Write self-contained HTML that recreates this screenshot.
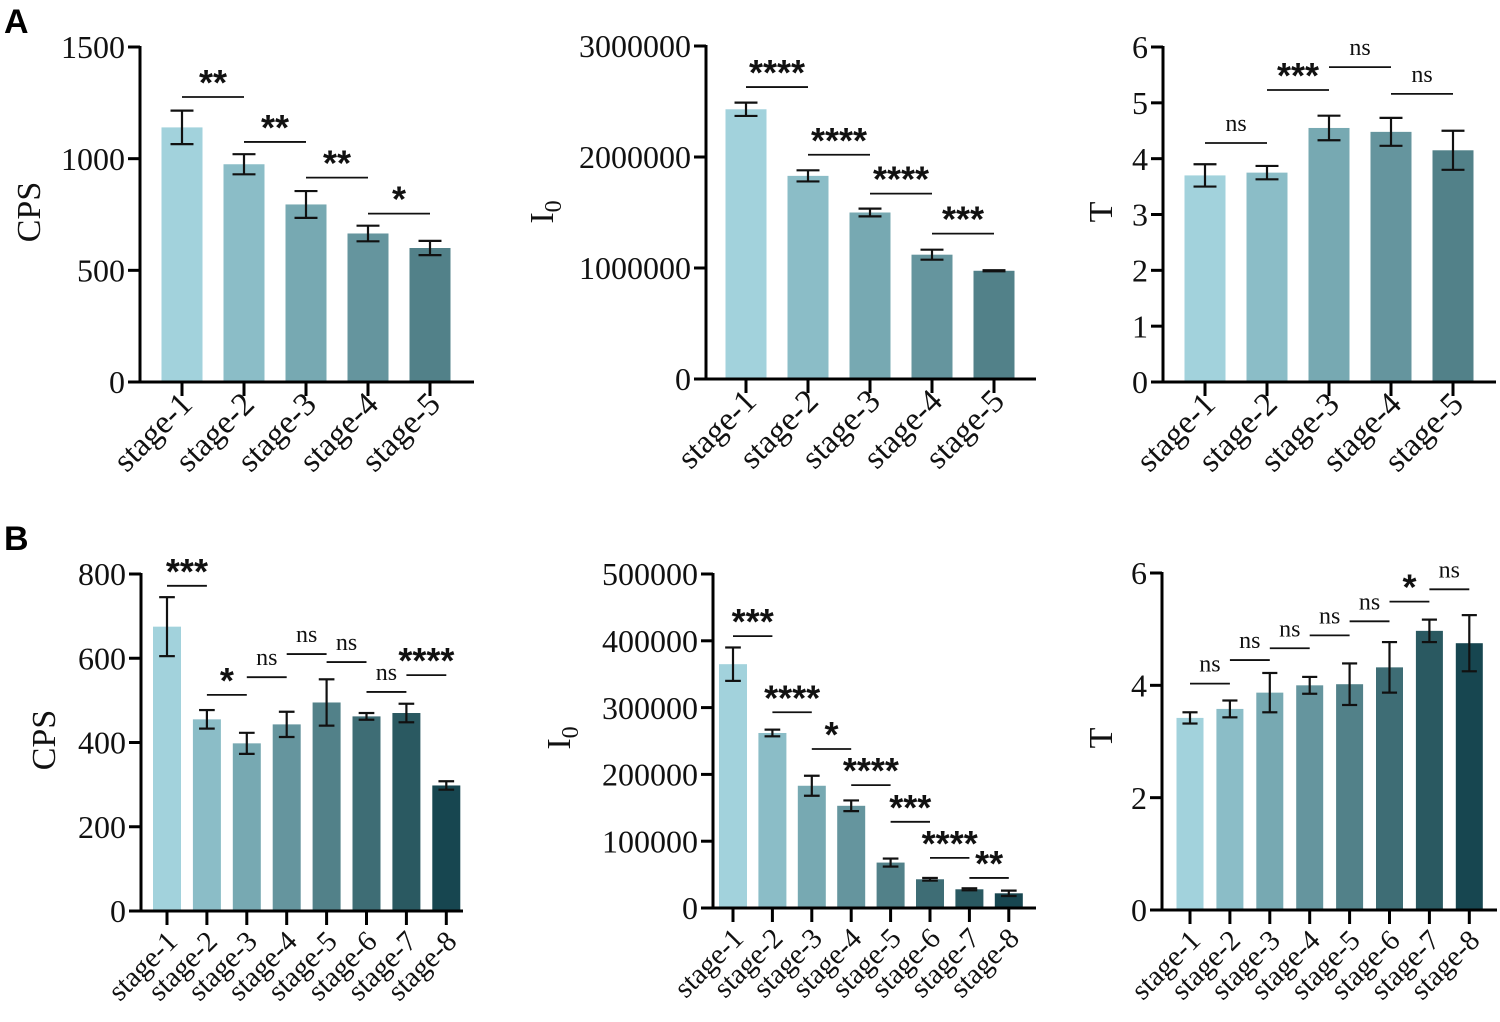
<!DOCTYPE html>
<html><head><meta charset="utf-8"><style>
html,body{margin:0;padding:0;background:#fff}
svg{display:block}
</style></head><body>
<svg id="fig" width="1500" height="1022" viewBox="0 0 1500 1022" xmlns="http://www.w3.org/2000/svg">
<text x="4" y="33" font-family="Liberation Sans, sans-serif" font-weight="bold" font-size="34">A</text>
<text x="4" y="550" font-family="Liberation Sans, sans-serif" font-weight="bold" font-size="34">B</text>
</svg>
<script>
const catsA = ["stage-1","stage-2","stage-3","stage-4","stage-5"];
const catsB = ["stage-1","stage-2","stage-3","stage-4","stage-5","stage-6","stage-7","stage-8"];
const colorsA = ["#a2d2dc","#8bbdc7","#77a9b2","#65959e","#528189"];
const colorsB = ["#a2d2dc","#8bbdc7","#77a9b2","#65959e","#528189","#3e6d75","#2a5961","#174650"];

const a1Vals = [1140, 975, 795, 665, 600];
const a1Errs = [75, 45, 60, 35, 32];
const a1Ticks = [0, 500, 1000, 1500];
const a1Sig = ["**","**","**","*"];
const a1SigY = [1276, 1075, 915, 754];

const a2Vals = [2430000, 1830000, 1500000, 1120000, 975000];
const a2Errs = [60000, 50000, 35000, 45000, 5000];
const a2Ticks = [0, 1000000, 2000000, 3000000];
const a2SigY = [2630000, 2020000, 1670000, 1310000];
const a2SigLbl = ["****","****","****","***"];

const a3Vals = [3.7, 3.75, 4.55, 4.48, 4.15];
const a3Errs = [0.2, 0.12, 0.22, 0.25, 0.35];
const a3Ticks = [0, 1, 2, 3, 4, 5, 6];
const a3Sig = ["ns","***","ns","ns"];
const a3SigY = [4.28, 5.23, 5.64, 5.16];

const b1Vals = [675, 455, 398, 443, 495, 462, 470, 298];
const b1Errs = [70, 22, 25, 30, 55, 8, 22, 10];
const b1Ticks = [0, 200, 400, 600, 800];
const b1Sig = ["***","*","ns","ns","ns","ns","****"];
const b1SigY = [772, 513, 555, 610, 591, 520, 560];

const b2Vals = [365000, 262000, 183000, 153000, 68000, 43000, 28000, 22000];
const b2Errs = [25000, 5000, 15000, 8000, 6000, 2000, 1500, 4000];
const b2Ticks = [0, 100000, 200000, 300000, 400000, 500000];
const b2Sig = ["***","****","*","****","***","****","**"];
const b2SigY = [407000, 293000, 238000, 184000, 129000, 75000, 45000];

const b3Vals = [3.42, 3.58, 3.87, 4.0, 4.02, 4.32, 4.97, 4.75];
const b3Errs = [0.1, 0.15, 0.35, 0.15, 0.37, 0.45, 0.2, 0.5];
const b3Ticks = [0, 2, 4, 6];
const b3Sig = ["ns","ns","ns","ns","ns","*","ns"];
const b3SigY = [4.03, 4.45, 4.66, 4.89, 5.14, 5.49, 5.71];

const NS = "http://www.w3.org/2000/svg";
const svg = document.getElementById('fig');
function mk(tag, attrs, parent){
  const e = document.createElementNS(NS, tag);
  for (const k in attrs) e.setAttribute(k, attrs[k]);
  (parent||svg).appendChild(e);
  return e;
}

function panel(p){
  const g = mk('g', {});
  
  
  const ymax = p.ticks[p.ticks.length-1];
  const yS = v => p.zero - (v / ymax) * (p.zero - p.top);
  const xS = i => p.firstX + i * p.step;
  p.vals.forEach((v,i)=>{
    const r = mk('rect', {x: xS(i)-p.bw/2, y: yS(v), width: p.bw, height: p.zero - yS(v), fill: p.colors[i]}, g);
    
    
  });
  p.vals.forEach((v,i)=>{
    const e = p.errs[i], cx = xS(i), cw = p.bw*0.28;
    const eg = mk('g', {stroke:'#111', 'stroke-width':2.2, fill:'none'}, g);
    
    
    mk('line', {x1:cx, x2:cx, y1:yS(v+e), y2:yS(v-e)}, eg);
    mk('line', {x1:cx-cw, x2:cx+cw, y1:yS(v+e), y2:yS(v+e)}, eg);
    mk('line', {x1:cx-cw, x2:cx+cw, y1:yS(v-e), y2:yS(v-e)}, eg);
  });
  const ax = mk('g', {stroke:'#000', 'stroke-width':3, fill:'none'}, g);
  
  
  mk('line', {x1:p.ax, x2:p.ax, y1:p.top-1, y2:p.zero+1.5}, ax);
  mk('line', {x1:p.ax-12, x2:p.xend, y1:p.zero, y2:p.zero}, ax);
  p.ticks.forEach(t=>{
    mk('line', {x1:p.ax-12, x2:p.ax, y1:yS(t), y2:yS(t)}, ax);
    const tl = mk('text', {x:p.ax-15, y:yS(t)+p.tfs*0.35, 'text-anchor':'end', 'font-family':'Liberation Serif, serif', 'font-size':p.tfs, fill:'#111', stroke:'none'}, g);
    tl.textContent = String(t);
    
    
  });
  p.cats.forEach((c,i)=>{
    mk('line', {x1:xS(i), x2:xS(i), y1:p.zero, y2:p.zero+14}, ax);
    const cx = xS(i) + p.lxo, cy = p.zero + p.lyo;
    const tl = mk('text', {x:cx, y:cy, 'text-anchor':'end', transform:`rotate(-45 ${cx} ${cy})`, 'font-family':'Liberation Serif, serif', 'font-size':p.xfs, fill:'#111'}, g);
    tl.textContent = c;
    
    
  });
  const yt = mk('text', {x:p.ylx, y:p.yly, 'text-anchor':'middle', transform:`rotate(-90 ${p.ylx} ${p.yly})`, 'font-family':'Liberation Serif, serif', 'font-size':34, fill:'#111'}, g);
  yt.textContent = p.ylabel;
  if (p.sub){ const s = mk('tspan', {'font-size':24, dy:8}, yt); s.textContent = p.sub; }
  
  
  p.sig.forEach((s,i)=>{
    const y = yS(p.sigY[i]);
    const sg = mk('g', {}, g);
    
    
    mk('line', {x1:xS(i), x2:xS(i+1), y1:y, y2:y, stroke:'#111', 'stroke-width':1.8}, sg);
    const isNs = s === 'ns';
    const t = mk('text', {x:(xS(i)+xS(i+1))/2, y: isNs ? y-12 : y-2, 'text-anchor':'middle',
      'font-family': isNs ? 'Liberation Serif, serif' : 'Liberation Sans, sans-serif',
      'font-weight': isNs ? 'normal' : 'bold', 'font-size': isNs ? p.nsfs : p.sfs, fill:'#111'}, sg);
    t.textContent = s;
  });
}

panel({name:'panel-a-cps', cats:catsA, colors:colorsA, vals:a1Vals, errs:a1Errs, ticks:a1Ticks, sig:a1Sig, sigY:a1SigY,
  ax:140, top:47, zero:382, xend:474, firstX:182, step:62, bw:41, tfs:32, xfs:33, lxo:12, lyo:24, ylabel:'CPS', ylx:40, yly:212, sfs:36, nsfs:24});
panel({name:'panel-a-i0', cats:catsA, colors:colorsA, vals:a2Vals, errs:a2Errs, ticks:a2Ticks, sig:a2SigLbl, sigY:a2SigY,
  ax:706, top:46, zero:379, xend:1036, firstX:746, step:62, bw:41, tfs:32, xfs:33, lxo:12, lyo:24, ylabel:'I', sub:'0', ylx:553, yly:212, sfs:36, nsfs:24});
panel({name:'panel-a-t', cats:catsA, colors:colorsA, vals:a3Vals, errs:a3Errs, ticks:a3Ticks, sig:a3Sig, sigY:a3SigY,
  ax:1163, top:47, zero:382, xend:1496, firstX:1205, step:62, bw:41, tfs:32, xfs:33, lxo:12, lyo:24, ylabel:'T', ylx:1112, yly:212, sfs:36, nsfs:24});
panel({name:'panel-b-cps', cats:catsB, colors:colorsB, vals:b1Vals, errs:b1Errs, ticks:b1Ticks, sig:b1Sig, sigY:b1SigY,
  ax:141, top:574, zero:911, xend:463, firstX:167, step:39.9, bw:28, tfs:32, xfs:29, lxo:12, lyo:32, ylabel:'CPS', ylx:55, yly:740, sfs:36, nsfs:24});
panel({name:'panel-b-i0', cats:catsB, colors:colorsB, vals:b2Vals, errs:b2Errs, ticks:b2Ticks, sig:b2Sig, sigY:b2SigY,
  ax:713, top:574, zero:908, xend:1036, firstX:733, step:39.4, bw:28, tfs:32, xfs:29, lxo:12, lyo:32, ylabel:'I', sub:'0', ylx:570, yly:738, sfs:36, nsfs:24});
panel({name:'panel-b-t', cats:catsB, colors:colorsB, vals:b3Vals, errs:b3Errs, ticks:b3Ticks, sig:b3Sig, sigY:b3SigY,
  ax:1162, top:573, zero:910, xend:1497, firstX:1190, step:39.9, bw:27, tfs:32, xfs:29, lxo:12, lyo:32, ylabel:'T', ylx:1112, yly:738, sfs:36, nsfs:24});
</script>
</body></html>
